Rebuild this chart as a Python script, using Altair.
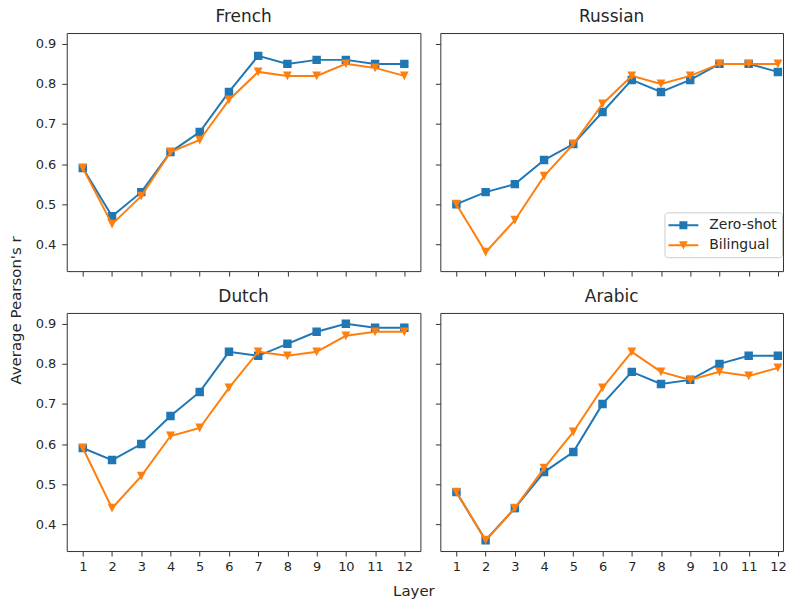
import altair as alt
import pandas as pd

layers = list(range(1, 13))
series_names = ["Zero-shot", "Bilingual"]

french_zero = [0.59, 0.47, 0.53, 0.63, 0.68, 0.78, 0.87, 0.85, 0.86, 0.86, 0.85, 0.85]
french_bil = [0.59, 0.45, 0.52, 0.63, 0.66, 0.76, 0.83, 0.82, 0.82, 0.85, 0.84, 0.82]
russian_zero = [0.50, 0.53, 0.55, 0.61, 0.65, 0.73, 0.81, 0.78, 0.81, 0.85, 0.85, 0.83]
russian_bil = [0.50, 0.38, 0.46, 0.57, 0.65, 0.75, 0.82, 0.80, 0.82, 0.85, 0.85, 0.85]
dutch_zero = [0.59, 0.56, 0.60, 0.67, 0.73, 0.83, 0.82, 0.85, 0.88, 0.90, 0.89, 0.89]
dutch_bil = [0.59, 0.44, 0.52, 0.62, 0.64, 0.74, 0.83, 0.82, 0.83, 0.87, 0.88, 0.88]
arabic_zero = [0.48, 0.36, 0.44, 0.53, 0.58, 0.70, 0.78, 0.75, 0.76, 0.80, 0.82, 0.82]
arabic_bil = [0.48, 0.36, 0.44, 0.54, 0.63, 0.74, 0.83, 0.78, 0.76, 0.78, 0.77, 0.79]

BLUE = "#1f77b4"
ORANGE = "#ff7f0e"
FONT = "DejaVu Sans"
TXT = "#262626"
FRAME = "#333333"

SQ = "square"
TRI = "M-1,-1H1L0,1Z"
LEG_SQ = "M-1.875,-0.125H1.875V0.125H-1.875Z M-0.5,-0.5H0.5V0.5H-0.5Z"
LEG_TRI = "M-1.875,-0.125H1.875V0.125H-1.875Z M-0.55,-0.5H0.55L0,0.55Z"


def panel(name, zero, bil, bottom, left, right_col, legend=False, xtitle=False, ytitle=False):
    df = pd.DataFrame({
        "layer": layers * 2,
        "value": zero + bil,
        "series": [series_names[0]] * 12 + [series_names[1]] * 12,
    })
    xdom = [0.45, 12.175] if right_col else [0.45, 12.55]
    width = 344 if right_col else 355

    common = dict(grid=False, domain=False, tickColor=FRAME, tickSize=5, tickWidth=1,
                  labelFontSize=13, labelFont=FONT, labelColor=TXT)
    xaxis = dict(values=layers, labels=bottom, format="d", labelPadding=5, **common)
    if xtitle:
        xaxis.update(title="Layer", titleX=348, titleY=45, titleAlign="center",
                     titleBaseline="alphabetic", titleFontSize=15, titleFont=FONT,
                     titleFontWeight="normal", titleColor=TXT)
    else:
        xaxis.update(title=None)
    yaxis = dict(values=[0.4, 0.5, 0.6, 0.7, 0.8, 0.9], labels=left, format=".1f",
                 labelPadding=6, **common)
    if ytitle:
        yaxis.update(title="Average Pearson's r", titleX=-51, titleY=278, titleAlign="center",
                     titleBaseline="middle", titleAngle=270, titleFontSize=15, titleFont=FONT,
                     titleFontWeight="normal", titleColor=TXT)
    else:
        yaxis.update(title=None)

    x = alt.X("layer:Q", scale=alt.Scale(domain=xdom, nice=False, zero=False), axis=alt.Axis(**xaxis))
    y = alt.Y("value:Q", scale=alt.Scale(domain=[0.333, 0.927], nice=False, zero=False),
              axis=alt.Axis(**yaxis))

    parts = []
    for sname, color, shape, size in [(series_names[0], BLUE, SQ, 72), (series_names[1], ORANGE, TRI, 78)]:
        base = alt.Chart(df).transform_filter(alt.datum.series == sname)
        parts.append(base.mark_line(color=color, strokeWidth=2, clip=True).encode(x=x, y=y))
        parts.append(base.mark_point(shape=shape, filled=True, size=size, strokeWidth=0,
                                     color=color, opacity=1, clip=True).encode(x=x, y=y))
    if legend:
        leg = alt.Legend(title=None, orient="none", legendX=600, legendY=180,
                         labelFontSize=14, labelFont=FONT, labelColor=TXT,
                         symbolSize=256, symbolStrokeWidth=0, symbolOffset=6, labelOffset=18,
                         padding=5, rowPadding=5, strokeColor="#cccccc", fillColor="white",
                         cornerRadius=3)
        parts.append(
            alt.Chart(df).transform_filter("false").mark_point(filled=True, opacity=1).encode(
                x=x, y=y,
                color=alt.Color("series:N", scale=alt.Scale(domain=series_names, range=[BLUE, ORANGE]), legend=leg),
                shape=alt.Shape("series:N", scale=alt.Scale(domain=series_names, range=[LEG_SQ, LEG_TRI]), legend=leg),
            )
        )
    return alt.layer(*parts).properties(
        width=width, height=239,
        title=alt.TitleParams(name, fontSize=17, font=FONT, fontWeight="normal", color=TXT, offset=7),
    )


fr = panel("French", french_zero, french_bil, bottom=False, left=True, right_col=False, ytitle=True)
ru = panel("Russian", russian_zero, russian_bil, bottom=False, left=False, right_col=True, legend=True)
nl = panel("Dutch", dutch_zero, dutch_bil, bottom=True, left=True, right_col=False, xtitle=True)
ar = panel("Arabic", arabic_zero, arabic_bil, bottom=True, left=False, right_col=True)

chart = alt.concat(fr, ru, nl, ar, columns=2, spacing={"row": 42, "column": 20}, bounds="flush").properties(
    padding={"left": 8, "top": 6, "right": 0, "bottom": 0},
    background="white",
).configure_view(
    stroke=FRAME, strokeWidth=1
)

chart.save("out.html", embed_options={"renderer": "svg", "actions": False})
